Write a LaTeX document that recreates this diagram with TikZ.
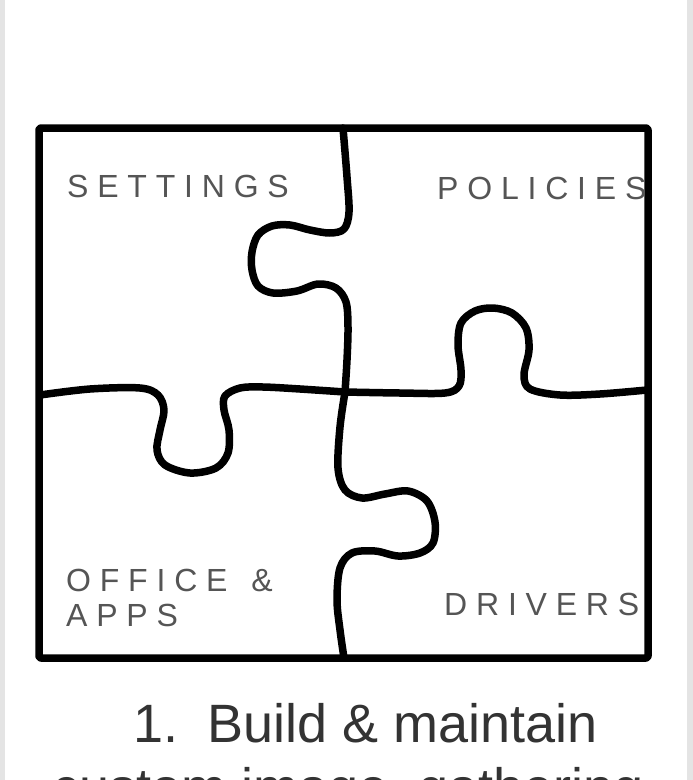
\documentclass[tikz,border=0pt]{standalone}
\usepackage{fontspec}
\setmainfont{Liberation Sans}
\definecolor{lblgray}{HTML}{555555}
\definecolor{capgray}{HTML}{333333}
\definecolor{stripgray}{HTML}{E4E4E4}
\def\trk#1{\trkA#1\relax}
\def\trkA#1{\ifx#1\relax\else#1\kern8.8pt\expandafter\trkA\fi}
\tikzset{
  piece/.style={line width=7.5pt, line cap=round, line join=round, black},
  lbl/.style={anchor=base west, inner sep=0pt, text=lblgray, font=\fontsize{32}{36}\selectfont},
  captxt/.style={inner sep=0pt, text=capgray, font=\fontsize{54}{60}\selectfont}
}
\begin{document}
\begin{tikzpicture}[x=1pt,y=-1pt]
\useasboundingbox (0,0) rectangle (693,780);
\clip (0,0) rectangle (693,780);
\fill[white] (0,0) rectangle (693,780);
\fill[stripgray] (0,0) rectangle (5,780);
\fill[stripgray] (687,0) rectangle (693,780);
% frame
\draw[piece, rounded corners=2pt] (39,128) rectangle (648,658);
% upper vertical cut
\draw[piece] plot[smooth, tension=0.55] coordinates {(343,128) (347,177) (349,212) (344,229) (330,233) (310,230) (290,225) (272,226) (258,235) (252,252) (252,270) (258,286) (273,293) (297,291) (318,284) (336,288) (346,302) (348,327) (347,360) (345,392)};
% left horizontal cut
\draw[piece] plot[smooth, tension=0.55] coordinates {(40,395) (90,389) (140,388) (158,395) (164,410) (160,430) (157,450) (165,465) (190,473) (216,468) (228,453) (229,430) (224,410) (225,396) (240,388) (263,387) (300,389) (345,392)};
% right horizontal cut
\draw[piece] plot[smooth, tension=0.55] coordinates {(345,392) (400,393) (445,393) (459,386) (461,370) (458,345) (461,323) (475,311) (493,308) (512,313) (526,328) (529,350) (524,375) (530,389) (560,395) (600,394) (647,390)};
% lower vertical cut
\draw[piece] plot[smooth, tension=0.55] coordinates {(345,392) (340,427) (338,468) (345,490) (362,498) (385,494) (408,491) (427,501) (435,522) (433,543) (420,553) (398,556) (375,551) (352,553) (340,568) (337,600) (340,630) (344,658)};
% labels
\node[lbl] (settings) at (67,197) {\trk{SETTINGS}};
\node[lbl] (policies) at (437,199) {\trk{POLICIES}};
\node[lbl] (office) at (66,591) {\trk{OFFICE}\kern15pt\trk{\&}};
\node[lbl] (apps) at (66,626) {\trk{APPS}};
\node[lbl] (drivers) at (444,615) {\trk{DRIVERS}};
% caption
\node[captxt, anchor=base west] (num) at (133,742) {1.};
\node[captxt, anchor=base west] (cap1) at (207,742) {Build \& maintain};
\node[captxt, anchor=base] (cap2) at (348,806) {custom image, gathering};
\end{tikzpicture}
\end{document}
